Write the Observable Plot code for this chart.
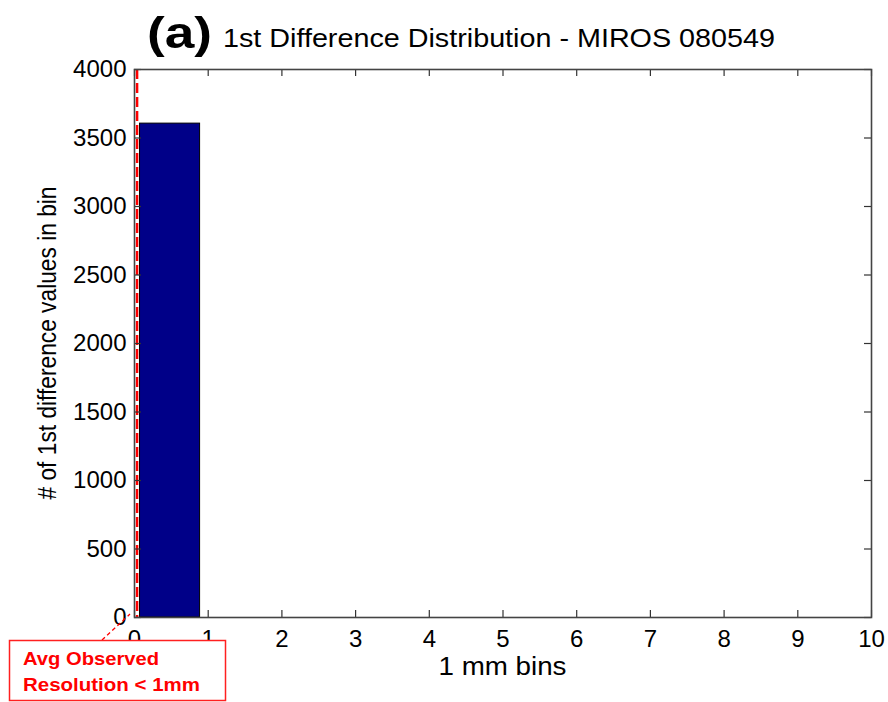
<!DOCTYPE html>
<html>
<head>
<meta charset="utf-8">
<script src="https://cdn.jsdelivr.net/npm/d3@7"></script>
<script src="https://cdn.jsdelivr.net/npm/@observablehq/plot@0.6"></script>
<style>
  html, body { margin: 0; padding: 0; background: #fff; }
  #chart { position: relative; width: 888px; height: 702px; }
  svg { font-family: "Liberation Sans", Arial, sans-serif; }
</style>
</head>
<body>
<div id="chart"></div>
<script>
// ---- data ----
const binStart = [0.075];
const binEnd = [0.89];
const binCount = [3605];
const xTicks = [0, 1, 2, 3, 4, 5, 6, 7, 8, 9, 10];
const yTicks = [0, 500, 1000, 1500, 2000, 2500, 3000, 3500, 4000];
const avgResolution = [0.035];
const titleTag = "(a)";
const titleText = "1st Difference Distribution - MIROS 080549";
const xLabel = "1 mm bins";
const yLabel = "# of 1st difference values in bin";
const noteLines = ["Avg Observed", "Resolution < 1mm"];

const bars = binStart.map((s, i) => ({x1: s, x2: binEnd[i], y: binCount[i]}));
const W = 888, H = 702;

const chart = Plot.plot({
  width: W,
  height: H,
  marginLeft: 134,
  marginRight: 17,
  marginTop: 69,
  marginBottom: 85,
  style: {fontFamily: "Liberation Sans, Arial, sans-serif", color: "#000", background: "#fff"},
  x: {domain: [0, 10], ticks: xTicks, label: null},
  y: {domain: [0, 4000], ticks: yTicks, label: null},
  marks: [
    Plot.rectY(bars, {x1: "x1", x2: "x2", y: "y", fill: "#000088", stroke: "#000", strokeWidth: 1}),
    Plot.ruleX(avgResolution, {stroke: "#ff0000", strokeWidth: 2.5, strokeDasharray: "10,4"}),
    // inward ticks
    Plot.ruleX(xTicks, {y1: 0, y2: 52, stroke: "#333", strokeWidth: 1.2}),
    Plot.ruleX(xTicks, {y1: 3948, y2: 4000, stroke: "#333", strokeWidth: 1.2}),
    Plot.ruleY(yTicks, {x1: 0, x2: 0.095, stroke: "#333", strokeWidth: 1.2}),
    Plot.ruleY(yTicks, {x1: 9.905, x2: 10, stroke: "#333", strokeWidth: 1.2}),
    Plot.axisX(xTicks, {tickSize: 0, tickPadding: 12, fontSize: 24, fill: "#000", tickFormat: d => String(d)}),
    Plot.axisY(yTicks, {tickSize: 0, tickPadding: 8, fontSize: 24, fill: "#000", tickFormat: d => String(d)}),
    Plot.frame({stroke: "#444", strokeWidth: 1.6})
  ]
});

document.getElementById("chart").appendChild(chart);

const svg = d3.select(chart);
const xs = chart.scale("x"), ys = chart.scale("y");

function addText(x, y, str, size, opts = {}) {
  const el = svg.append("text").attr("x", x).attr("y", y)
    .attr("font-size", size).attr("fill", opts.fill || "#000")
    .attr("text-anchor", opts.anchor || "start")
    .attr("font-weight", opts.weight || "normal").text(str);
  if (opts.len) el.attr("textLength", opts.len).attr("lengthAdjust", "spacingAndGlyphs");
  if (opts.transform) el.attr("transform", opts.transform);
  return el;
}

// title
addText(147, 48, titleTag, 44, {weight: "bold", len: 65});
addText(223, 47, titleText, 26, {len: 552});

// axis labels
addText((xs.apply(0) + xs.apply(10)) / 2, 675, xLabel, 25, {anchor: "middle", len: 128});
addText(0, 0, yLabel, 25, {anchor: "middle", len: 313,
  transform: `translate(56,${(ys.apply(0) + ys.apply(4000)) / 2}) rotate(-90)`});

// annotation
const ox = xs.apply(0), oy = ys.apply(0);
svg.append("line").attr("x1", 102).attr("y1", 640).attr("x2", ox - 4).attr("y2", oy - 3)
  .attr("stroke", "#ff0000").attr("stroke-width", 1.3).attr("stroke-dasharray", "4,3");
svg.append("rect").attr("x", 9.5).attr("y", 640.5).attr("width", 216).attr("height", 60)
  .attr("fill", "#fff").attr("stroke", "#ff2020").attr("stroke-width", 1.5);
addText(23, 665, noteLines[0], 18.5, {weight: "bold", fill: "#ff0000", len: 136});
addText(23, 691, noteLines[1], 18.5, {weight: "bold", fill: "#ff0000", len: 177});
</script>
</body>
</html>
